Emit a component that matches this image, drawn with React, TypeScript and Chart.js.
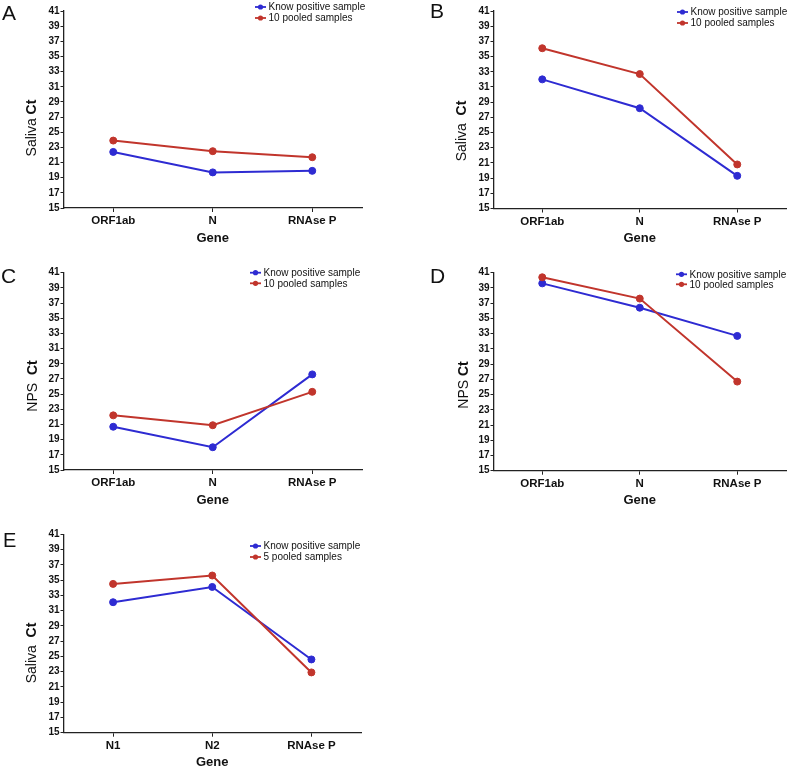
import React, { useEffect, useRef } from 'react';
import { Chart, registerables } from 'chart.js';

Chart.register(...registerables);

// ---------- data ----------
const genesORF = ['ORF1ab', 'N', 'RNAse P'];
const genesN = ['N1', 'N2', 'RNAse P'];
const yMin = 15;
const yMax = 41;
const yStep = 2;

const knownLabel = 'Know positive sample';
const pooled10Label = '10 pooled samples';
const pooled5Label = '5 pooled samples';
const xTitle = 'Gene';

const knownA = [22.4, 19.7, 19.9];
const pooledA = [23.9, 22.5, 21.7];
const knownB = [32.0, 28.2, 19.3];
const pooledB = [36.1, 32.7, 20.8];
const knownC = [20.7, 18.0, 27.6];
const pooledC = [22.2, 20.9, 25.3];
const knownD = [39.6, 36.4, 32.7];
const pooledD = [40.4, 37.6, 26.7];
const knownE = [32.1, 34.1, 24.6];
const pooledE = [34.5, 35.6, 22.9];

// ---------- styles ----------
const BLUE = '#2e2bd2';
const RED = '#c1352c';
const AXIS = '#222222';
const FONT = "'Liberation Sans', Arial, Helvetica, sans-serif";

type Panel = {
  letter: string;
  yName: string;
  yGap: string;
  labels: string[];
  known: number[];
  pooled: number[];
  pooledLabel: string;
  left: number; top: number; w: number; h: number;
  areaL: number; areaT: number; areaR: number; areaB: number;
  letterX: number; letterY: number; letterSize: number;
  titleX: number; titleY: number;
  legX: number; legY1: number; legY2: number;
};

const panels: Panel[] = [
  {
    letter: 'A', yName: 'Saliva', yGap: ' ', labels: genesORF, known: knownA, pooled: pooledA, pooledLabel: pooled10Label,
    left: 0, top: 0, w: 395, h: 258, areaL: 63.5, areaT: 11, areaR: 362, areaB: 208,
    letterX: 2, letterY: 20, letterSize: 21, titleX: 32.5, titleY: 128, legX: 255, legY1: 7, legY2: 18,
  },
  {
    letter: 'B', yName: 'Saliva', yGap: '  ', labels: genesORF, known: knownB, pooled: pooledB, pooledLabel: pooled10Label,
    left: 395, top: 0, w: 396, h: 258, areaL: 98.5, areaT: 11, areaR: 395, areaB: 208.5,
    letterX: 35, letterY: 18, letterSize: 21, titleX: 67.5, titleY: 131, legX: 282, legY1: 12, legY2: 23,
  },
  {
    letter: 'C', yName: 'NPS', yGap: '  ', labels: genesORF, known: knownC, pooled: pooledC, pooledLabel: pooled10Label,
    left: 0, top: 255, w: 395, h: 258, areaL: 63.5, areaT: 17.7, areaR: 362, areaB: 215,
    letterX: 1, letterY: 28, letterSize: 21, titleX: 33.5, titleY: 131, legX: 250, legY1: 17.7, legY2: 28.3,
  },
  {
    letter: 'D', yName: 'NPS', yGap: ' ', labels: genesORF, known: knownD, pooled: pooledD, pooledLabel: pooled10Label,
    left: 395, top: 255, w: 396, h: 258, areaL: 98.5, areaT: 17.7, areaR: 395, areaB: 215.7,
    letterX: 35, letterY: 28, letterSize: 21, titleX: 69, titleY: 130, legX: 281, legY1: 19.3, legY2: 29.3,
  },
  {
    letter: 'E', yName: 'Saliva', yGap: '  ', labels: genesN, known: knownE, pooled: pooledE, pooledLabel: pooled5Label,
    left: 0, top: 505, w: 395, h: 263, areaL: 63.5, areaT: 29.3, areaR: 361, areaB: 227.7,
    letterX: 3, letterY: 42, letterSize: 20, titleX: 32.5, titleY: 148, legX: 250, legY1: 41, legY2: 52,
  },
];

function makeDeco(p: Panel) {
  return {
    id: 'deco' + p.letter,
    afterDraw(chart: any) {
      const ctx: CanvasRenderingContext2D = chart.ctx;
      const area = chart.chartArea;
      ctx.save();
      // panel letter
      ctx.fillStyle = '#111';
      ctx.font = `${p.letterSize}px ${FONT}`;
      ctx.textAlign = 'left';
      ctx.textBaseline = 'alphabetic';
      ctx.fillText(p.letter, p.letterX, p.letterY);

      // y title (mixed weight)
      const part1 = p.yName + p.yGap;
      const part2 = 'Ct';
      const f1 = `14px ${FONT}`;
      const f2 = `bold 14px ${FONT}`;
      ctx.font = f1;
      const w1 = ctx.measureText(part1).width;
      ctx.font = f2;
      const w2 = ctx.measureText(part2).width;
      const total = w1 + w2;
      ctx.translate(p.titleX, p.titleY);
      ctx.rotate(-Math.PI / 2);
      ctx.textBaseline = 'middle';
      ctx.textAlign = 'left';
      ctx.font = f1;
      ctx.fillText(part1, -total / 2, 0);
      ctx.font = f2;
      ctx.fillText(part2, -total / 2 + w1, 0);
      ctx.setTransform(1, 0, 0, 1, 0, 0);

      // x title
      ctx.font = `bold 13px ${FONT}`;
      ctx.textAlign = 'center';
      ctx.textBaseline = 'middle';
      ctx.fillStyle = '#111';
      ctx.fillText(xTitle, (area.left + area.right) / 2, area.bottom + 30);

      // legend
      const items = chart.data.datasets.map((d: any) => ({ label: d.label, color: d.borderColor }));
      const ys = [p.legY1, p.legY2];
      items.forEach((it: any, i: number) => {
        const y = ys[i];
        ctx.strokeStyle = it.color;
        ctx.lineWidth = 1.8;
        ctx.beginPath();
        ctx.moveTo(p.legX, y);
        ctx.lineTo(p.legX + 11, y);
        ctx.stroke();
        ctx.fillStyle = it.color;
        ctx.beginPath();
        ctx.arc(p.legX + 5.5, y, 2.6, 0, Math.PI * 2);
        ctx.fill();
        ctx.fillStyle = '#111';
        ctx.font = `10px ${FONT}`;
        ctx.textAlign = 'left';
        ctx.textBaseline = 'middle';
        ctx.fillText(it.label, p.legX + 13.5, y + 0.5);
      });
      ctx.restore();
    },
  };
}

function PanelChart({ p }: { p: Panel }) {
  const ref = useRef<HTMLCanvasElement | null>(null);
  useEffect(() => {
    if (!ref.current) return;
    const yTickVals: number[] = [];
    for (let v = yMin; v <= yMax; v += yStep) yTickVals.push(v);
    const chart = new Chart(ref.current, {
      type: 'line',
      data: {
        labels: p.labels,
        datasets: [
          {
            label: knownLabel,
            data: p.known,
            borderColor: BLUE,
            backgroundColor: BLUE,
            pointBackgroundColor: BLUE,
            pointBorderColor: BLUE,
            borderWidth: 2,
            pointRadius: 3.5,
            pointBorderWidth: 1,
            tension: 0,
            order: 1,
          },
          {
            label: p.pooledLabel,
            data: p.pooled,
            borderColor: RED,
            backgroundColor: RED,
            pointBackgroundColor: RED,
            pointBorderColor: RED,
            borderWidth: 2,
            pointRadius: 3.5,
            pointBorderWidth: 1,
            tension: 0,
            order: 0,
          },
        ],
      },
      options: {
        animation: false,
        responsive: false,
        maintainAspectRatio: false,
        devicePixelRatio: 1,
        layout: { padding: { left: 0, top: p.areaT, right: p.w - p.areaR, bottom: 0 } },
        plugins: {
          legend: { display: false },
          tooltip: { enabled: false },
          title: { display: false },
        },
        scales: {
          x: {
            type: 'category',
            offset: true,
            grid: { display: true, drawOnChartArea: false, drawTicks: true, tickLength: 4, color: AXIS, lineWidth: 1 },
            border: { display: true, color: AXIS, width: 1.3 },
            ticks: { color: '#111', font: { family: FONT, size: 11.5, weight: 'bold' }, padding: 2, maxRotation: 0, autoSkip: false },
            afterFit: (scale: any) => { scale.height = p.h - p.areaB; },
          },
          y: {
            min: yMin,
            max: yMax,
            grid: { display: true, drawOnChartArea: false, drawTicks: true, tickLength: 3, color: AXIS, lineWidth: 1 },
            border: { display: true, color: AXIS, width: 1.3 },
            ticks: {
              stepSize: yStep,
              autoSkip: false,
              color: '#111',
              padding: 1,
              font: { family: FONT, size: 10, weight: 'bold' },
            },
            afterBuildTicks: (scale: any) => { scale.ticks = yTickVals.map((v) => ({ value: v })); },
            afterFit: (scale: any) => { scale.width = p.areaL; },
          },
        },
      },
      plugins: [makeDeco(p)],
    } as any);
    return () => chart.destroy();
  }, [p]);
  return (
    <canvas
      ref={ref}
      width={p.w}
      height={p.h}
      style={{ position: 'absolute', left: p.left, top: p.top, width: p.w, height: p.h }}
    />
  );
}

export default function App() {
  return (
    <div style={{ position: 'absolute', left: 0, top: 0, width: 791, height: 768, background: '#fff', overflow: 'hidden' }}>
      {panels.map((p) => (
        <PanelChart key={p.letter} p={p} />
      ))}
    </div>
  );
}
